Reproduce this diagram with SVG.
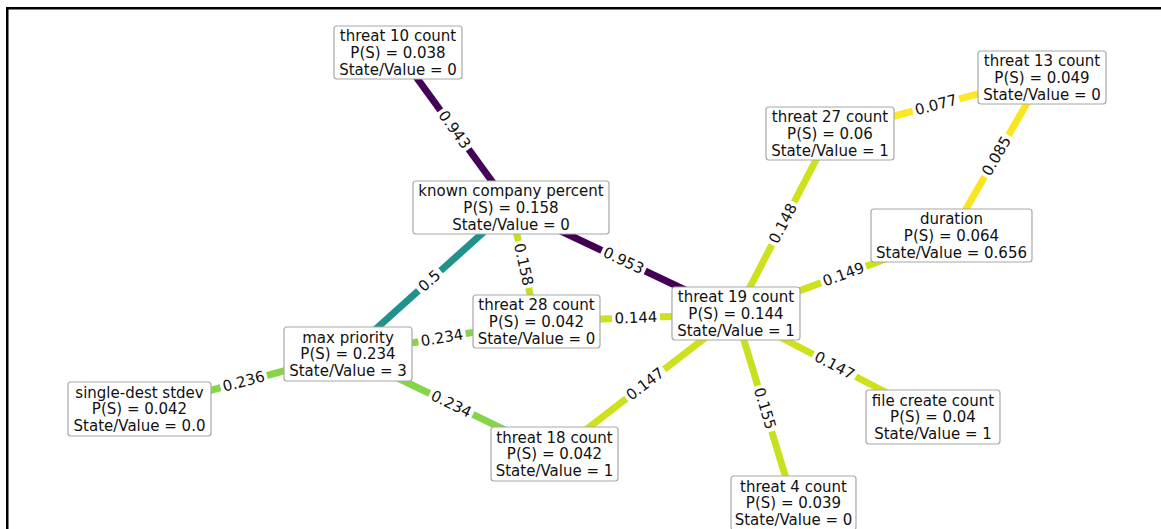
<svg xmlns="http://www.w3.org/2000/svg" width="1161" height="529" viewBox="0 0 1161 529">
<style>
text{font-family:"DejaVu Sans","Liberation Sans",sans-serif;font-size:15px;fill:#111;}
.n rect{fill:#fff;stroke:#a8a8a8;stroke-width:1.2;}
.n text{text-anchor:middle;}
.e line{stroke-width:7;stroke-linecap:butt;}
.lb rect{fill:#fff;}
.lb text{text-anchor:middle;}
</style>
<rect x="0" y="0" width="1161" height="529" fill="#fff"/>
<rect x="7.25" y="8.25" width="1170" height="540" fill="none" stroke="#000" stroke-width="2.5"/>
<g id="connectors" class="e">
<line x1="398" y1="52" x2="511" y2="207.5" stroke="#440256"/>
<line x1="511" y1="207.5" x2="736" y2="314" stroke="#440154"/>
<line x1="511" y1="207.5" x2="348" y2="354" stroke="#21918c"/>
<line x1="511" y1="207.5" x2="536" y2="321.5" stroke="#c5e021"/>
<line x1="348" y1="354" x2="536" y2="321.5" stroke="#86d549"/>
<line x1="348" y1="354" x2="139.5" y2="409" stroke="#86d549"/>
<line x1="348" y1="354" x2="554.5" y2="454" stroke="#86d549"/>
<line x1="536" y1="321.5" x2="736" y2="314" stroke="#cde11d"/>
<line x1="736" y1="314" x2="830" y2="133" stroke="#cde11d"/>
<line x1="736" y1="314" x2="951" y2="235" stroke="#cde11d"/>
<line x1="736" y1="314" x2="554.5" y2="454" stroke="#cde11d"/>
<line x1="736" y1="314" x2="793.5" y2="503" stroke="#c8e020"/>
<line x1="736" y1="314" x2="933" y2="417" stroke="#cde11d"/>
<line x1="830" y1="133" x2="1042" y2="77" stroke="#fde725"/>
<line x1="1042" y1="77" x2="951" y2="235" stroke="#f9e621"/>
<g class="lb" transform="translate(454.5,129.75) rotate(54)"><rect x="-24" y="-9" width="48" height="18"/><text y="5">0.943</text></g>
<g class="lb" transform="translate(623.5,260.75) rotate(25.3)"><rect x="-24" y="-9" width="48" height="18"/><text y="5">0.953</text></g>
<g class="lb" transform="translate(429.5,280.75) rotate(-41.9)"><rect x="-15" y="-9" width="30" height="18"/><text y="5">0.5</text></g>
<g class="lb" transform="translate(523.5,264.5) rotate(77.6)"><rect x="-24" y="-9" width="48" height="18"/><text y="5">0.158</text></g>
<g class="lb" transform="translate(442,337.75) rotate(-9.8)"><rect x="-24" y="-9" width="48" height="18"/><text y="5">0.234</text></g>
<g class="lb" transform="translate(243.75,381.5) rotate(-14.8)"><rect x="-24" y="-9" width="48" height="18"/><text y="5">0.236</text></g>
<g class="lb" transform="translate(451.25,404) rotate(25.8)"><rect x="-24" y="-9" width="48" height="18"/><text y="5">0.234</text></g>
<g class="lb" transform="translate(636,317.75) rotate(-2.1)"><rect x="-24" y="-9" width="48" height="18"/><text y="5">0.144</text></g>
<g class="lb" transform="translate(783,223.5) rotate(-62.6)"><rect x="-24" y="-9" width="48" height="18"/><text y="5">0.148</text></g>
<g class="lb" transform="translate(843.5,274.5) rotate(-20.2)"><rect x="-24" y="-9" width="48" height="18"/><text y="5">0.149</text></g>
<g class="lb" transform="translate(645.25,384) rotate(-37.6)"><rect x="-24" y="-9" width="48" height="18"/><text y="5">0.147</text></g>
<g class="lb" transform="translate(764.75,408.5) rotate(73.1)"><rect x="-24" y="-9" width="48" height="18"/><text y="5">0.155</text></g>
<g class="lb" transform="translate(834.5,365.5) rotate(27.6)"><rect x="-24" y="-9" width="48" height="18"/><text y="5">0.147</text></g>
<g class="lb" transform="translate(936,105) rotate(-14.8)"><rect x="-24" y="-9" width="48" height="18"/><text y="5">0.077</text></g>
<g class="lb" transform="translate(996.5,156) rotate(-60.1)"><rect x="-24" y="-9" width="48" height="18"/><text y="5">0.085</text></g>
</g>
<g id="n-threat10" class="n"><rect x="334" y="26" width="128" height="53" rx="3"/><text transform="translate(398,52.5)"><tspan x="0" y="-11.2">threat 10 count</tspan><tspan x="0" y="5.4">P(S) = 0.038</tspan><tspan x="0" y="22">State/Value = 0</tspan></text></g>
<g id="n-threat13" class="n"><rect x="978" y="51" width="128" height="53" rx="3"/><text transform="translate(1042,77.5)"><tspan x="0" y="-11.2">threat 13 count</tspan><tspan x="0" y="5.4">P(S) = 0.049</tspan><tspan x="0" y="22">State/Value = 0</tspan></text></g>
<g id="n-threat27" class="n"><rect x="766" y="107" width="128" height="53" rx="3"/><text transform="translate(830,133.5)"><tspan x="0" y="-11.2">threat 27 count</tspan><tspan x="0" y="5.4">P(S) = 0.06</tspan><tspan x="0" y="22">State/Value = 1</tspan></text></g>
<g id="n-known" class="n"><rect x="413" y="181" width="196" height="53" rx="3"/><text transform="translate(511,207.5)"><tspan x="0" y="-11.2">known company percent</tspan><tspan x="0" y="5.4">P(S) = 0.158</tspan><tspan x="0" y="22">State/Value = 0</tspan></text></g>
<g id="n-duration" class="n"><rect x="871" y="209" width="161" height="53" rx="3"/><text transform="translate(951.5,235.5)"><tspan x="0" y="-11.2">duration</tspan><tspan x="0" y="5.4">P(S) = 0.064</tspan><tspan x="0" y="22">State/Value = 0.656</tspan></text></g>
<g id="n-threat28" class="n"><rect x="473" y="295" width="127" height="53" rx="3"/><text transform="translate(536.5,321.5)"><tspan x="0" y="-11.2">threat 28 count</tspan><tspan x="0" y="5.4">P(S) = 0.042</tspan><tspan x="0" y="22">State/Value = 0</tspan></text></g>
<g id="n-threat19" class="n"><rect x="672" y="287" width="128" height="53" rx="3"/><text transform="translate(736,313.5)"><tspan x="0" y="-11.2">threat 19 count</tspan><tspan x="0" y="5.4">P(S) = 0.144</tspan><tspan x="0" y="22">State/Value = 1</tspan></text></g>
<g id="n-maxprio" class="n"><rect x="284" y="327" width="128" height="54" rx="3"/><text transform="translate(348,354)"><tspan x="0" y="-11.2">max priority</tspan><tspan x="0" y="5.4">P(S) = 0.234</tspan><tspan x="0" y="22">State/Value = 3</tspan></text></g>
<g id="n-singledest" class="n"><rect x="68" y="382" width="143" height="54" rx="3"/><text transform="translate(139.5,409)"><tspan x="0" y="-11.2">single-dest stdev</tspan><tspan x="0" y="5.4">P(S) = 0.042</tspan><tspan x="0" y="22">State/Value = 0.0</tspan></text></g>
<g id="n-threat18" class="n"><rect x="491" y="427" width="127" height="54" rx="3"/><text transform="translate(554.5,454)"><tspan x="0" y="-11.2">threat 18 count</tspan><tspan x="0" y="5.4">P(S) = 0.042</tspan><tspan x="0" y="22">State/Value = 1</tspan></text></g>
<g id="n-filecreate" class="n"><rect x="866" y="390" width="134" height="54" rx="3"/><text transform="translate(933,417)"><tspan x="0" y="-11.2">file create count</tspan><tspan x="0" y="5.4">P(S) = 0.04</tspan><tspan x="0" y="22">State/Value = 1</tspan></text></g>
<g id="n-threat4" class="n"><rect x="731" y="476" width="125" height="54" rx="3"/><text transform="translate(793.5,503)"><tspan x="0" y="-11.2">threat 4 count</tspan><tspan x="0" y="5.4">P(S) = 0.039</tspan><tspan x="0" y="22">State/Value = 0</tspan></text></g>
</svg>
